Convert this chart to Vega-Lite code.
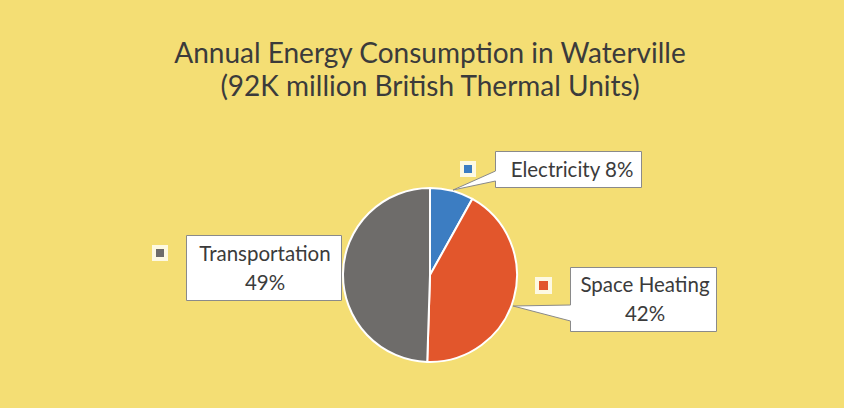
{
  "$schema": "https://vega.github.io/schema/vega-lite/v6.json",
  "width": 828,
  "height": 266,
  "padding": {"left": 16, "right": 0, "top": 40, "bottom": 0},
  "background": "#f4de74",
  "title": {
    "text": ["Annual Energy Consumption in Waterville", "(92K million British Thermal Units)"],
    "font": "Lato",
    "fontSize": 28,
    "fontWeight": "normal",
    "color": "#3b3b3b",
    "lineHeight": 33.5,
    "anchor": "middle",
    "offset": 40
  },
  "data": {
    "values": [
      {"category": "Electricity", "value": 8, "label": "Electricity 8%"},
      {"category": "Space Heating", "value": 42, "label": "Space Heating\n42%"},
      {"category": "Transportation", "value": 49, "label": "Transportation\n49%"}
    ]
  },
  "resolve": {"scale": {"shape": "independent"}},
  "layer": [
    {
      "mark": {"type": "arc", "outerRadius": 87, "stroke": "white", "strokeWidth": 2},
      "encoding": {
        "theta": {"field": "value", "type": "quantitative", "stack": true},
        "order": {"field": "category", "type": "nominal"},
        "color": {
          "field": "category", "type": "nominal", "legend": null,
          "scale": {"domain": ["Electricity", "Space Heating", "Transportation"], "range": ["#3c7dc2", "#e2562c", "#6e6c6a"]}
        }
      }
    },
    {
      "mark": {"type": "point", "filled": true, "fill": "white", "stroke": "#8a8a8a", "strokeWidth": 1, "opacity": 1, "size": 4},
      "encoding": {
        "shape": {
          "field": "category", "type": "nominal", "legend": null,
          "scale": {
            "domain": ["Electricity", "Space Heating", "Transportation"],
            "range": [
              "M65.5,-123.5 H211.5 V-87.5 H65.5 V-94 L23,-85 L65.5,-104 Z",
              "M140.5,-7.5 H286.5 V56.5 H140.5 V46 L83,31 L140.5,30 Z",
              "M-243.5,-39.5 H-88.5 V25.5 H-243.5 Z"
            ]
          }
        }
      }
    },
    {
      "mark": {"type": "point", "filled": true, "fill": "white", "strokeWidth": 0, "opacity": 0.8, "size": 4},
      "encoding": {
        "shape": {
          "field": "category", "type": "nominal", "legend": null,
          "scale": {
            "domain": ["Electricity", "Space Heating", "Transportation"],
            "range": [
              "M30,-114 h16 v16 h-16 Z",
              "M105,2 h17 v17 h-17 Z",
              "M-278,-30 h16 v16 h-16 Z"
            ]
          }
        }
      }
    },
    {
      "mark": {"type": "point", "filled": true, "strokeWidth": 0, "opacity": 1, "size": 4},
      "encoding": {
        "shape": {
          "field": "category", "type": "nominal", "legend": null,
          "scale": {
            "domain": ["Electricity", "Space Heating", "Transportation"],
            "range": [
              "M34,-110 h8 v8 h-8 Z",
              "M109,6 h9 v9 h-9 Z",
              "M-274,-26 h8 v8 h-8 Z"
            ]
          }
        },
        "color": {
          "field": "category", "type": "nominal", "legend": null,
          "scale": {"domain": ["Electricity", "Space Heating", "Transportation"], "range": ["#3c7dc2", "#e2562c", "#6e6c6a"]}
        }
      }
    },
    {
      "transform": [{"filter": "datum.category === 'Electricity'"}],
      "mark": {"type": "text", "font": "Lato", "fontSize": 20.5, "color": "#3b3b3b", "align": "center", "baseline": "middle", "dx": 142, "dy": -104},
      "encoding": {"text": {"field": "label", "type": "nominal"}}
    },
    {
      "transform": [{"filter": "datum.category === 'Space Heating'"}],
      "mark": {"type": "text", "font": "Lato", "fontSize": 20.5, "color": "#3b3b3b", "align": "center", "baseline": "middle", "lineBreak": "\n", "lineHeight": 28.5, "dx": 215, "dy": 11},
      "encoding": {"text": {"field": "label", "type": "nominal"}}
    },
    {
      "transform": [{"filter": "datum.category === 'Transportation'"}],
      "mark": {"type": "text", "font": "Lato", "fontSize": 20.5, "color": "#3b3b3b", "align": "center", "baseline": "middle", "lineBreak": "\n", "lineHeight": 28.5, "dx": -165, "dy": -20},
      "encoding": {"text": {"field": "label", "type": "nominal"}}
    }
  ],
  "config": {"view": {"stroke": null}}
}
